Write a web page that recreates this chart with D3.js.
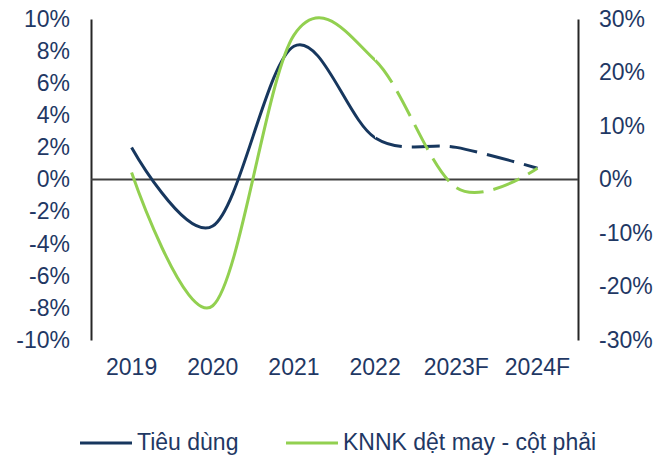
<!DOCTYPE html>
<html>
<head>
<meta charset="utf-8">
<script src="https://cdn.jsdelivr.net/npm/d3@7"></script>
<style>
  body { margin: 0; background: #fff; }
  text { font-family: Arial, "Liberation Sans", sans-serif; fill: #1F3864; }
</style>
</head>
<body>
<svg id="chart" width="669" height="455"></svg>
<script>
// --------- data ---------- //
var categories = ["2019", "2020", "2021", "2022", "2023F", "2024F"];
var consumption = [2.0, -2.9, 8.3, 2.6, 2.0, 0.7];        // left axis, %
var textileImport = [1.3, -23.6, 27.0, 22.3, -1.5, 2.1];  // right axis, %
var leftTicks = [-10, -8, -6, -4, -2, 0, 2, 4, 6, 8, 10];
var rightTicks = [-30, -20, -10, 0, 10, 20, 30];
var forecastFrom = "2022";
var seriesNames = ["Tiêu dùng", "KNNK dệt may - cột phải"];

// --------- chart ---------- //
var svg = d3.select("#chart");
var plotLeft = 91, plotRight = 578, plotTop = 19, plotBottom = 340;
var navy = "#17375E", green = "#92D050";

var x = d3.scaleBand().domain(categories).range([plotLeft, plotRight]);
var yL = d3.scaleLinear().domain([-10, 10]).range([plotBottom, plotTop]);
var yR = d3.scaleLinear().domain([-30, 30]).range([plotBottom, plotTop]);
var cx = function(c){ return x(c) + x.bandwidth() / 2; };
var pct = function(d){ return d + "%"; };

// axes
var gL = svg.append("g").attr("transform", "translate(" + plotLeft + ",0)")
	.call(d3.axisLeft(yL).tickValues(leftTicks).tickFormat(pct).tickSize(0).tickSizeOuter(0).tickPadding(21));
var gR = svg.append("g").attr("transform", "translate(" + plotRight + ",0)")
	.call(d3.axisRight(yR).tickValues(rightTicks).tickFormat(pct).tickSize(0).tickSizeOuter(0).tickPadding(21));
var gX = svg.append("g").attr("transform", "translate(0," + plotBottom + ")")
	.call(d3.axisBottom(x).tickSize(0).tickPadding(19));
gX.select(".domain").remove();

[gL, gR].forEach(function(g){
	g.select(".domain").attr("stroke", "#262626").attr("stroke-width", 2);
});
[gL, gR, gX].forEach(function(g){
	g.selectAll("text").style("font-size", "23px").attr("fill", "#1F3864");
});

// zero line
svg.append("line")
	.attr("x1", plotLeft).attr("x2", plotRight)
	.attr("y1", yL(0)).attr("y2", yL(0))
	.attr("stroke", "#404040").attr("stroke-width", 2);

// clip regions: actual vs forecast
var splitX = cx(forecastFrom);
var defs = svg.append("defs");
defs.append("clipPath").attr("id", "clipSolid")
	.append("rect").attr("x", 0).attr("y", 0).attr("width", splitX).attr("height", 455);
defs.append("clipPath").attr("id", "clipDash")
	.append("rect").attr("x", splitX).attr("y", 0).attr("width", 669 - splitX).attr("height", 455);

function drawSeries(values, yScale, color){
	var line = d3.line()
		.x(function(d, i){ return cx(categories[i]); })
		.y(function(d){ return yScale(d); })
		.curve(d3.curveCardinal.tension(0));
	var d = line(values);

	svg.append("path").attr("d", d)
		.attr("fill", "none").attr("stroke", color).attr("stroke-width", 3)
		.attr("clip-path", "url(#clipSolid)");

	var dashed = svg.append("path").attr("d", d)
		.attr("fill", "none").attr("stroke", color).attr("stroke-width", 3)
		.attr("stroke-dasharray", "28,10")
		.attr("clip-path", "url(#clipDash)");

	// find length where the curve reaches the split point, start a dash there
	var node = dashed.node(), lo = 0, hi = node.getTotalLength();
	for (var k = 0; k < 40; k++) {
		var mid = (lo + hi) / 2;
		if (node.getPointAtLength(mid).x < splitX) lo = mid; else hi = mid;
	}
	dashed.attr("stroke-dashoffset", -lo);
}

drawSeries(consumption, yL, navy);
drawSeries(textileImport, yR, green);

// legend
var legend = [
	{name: seriesNames[0], color: navy, x: 80},
	{name: seriesNames[1], color: green, x: 286}
];
var lg = svg.append("g").selectAll("g").data(legend).enter().append("g");
lg.append("line")
	.attr("x1", function(d){ return d.x; })
	.attr("x2", function(d){ return d.x + 52; })
	.attr("y1", 443).attr("y2", 443)
	.attr("stroke", function(d){ return d.color; }).attr("stroke-width", 3);
lg.append("text")
	.attr("x", function(d){ return d.x + 57; })
	.attr("y", 450)
	.style("font-size", "23px")
	.text(function(d){ return d.name; });
</script>
</body>
</html>
